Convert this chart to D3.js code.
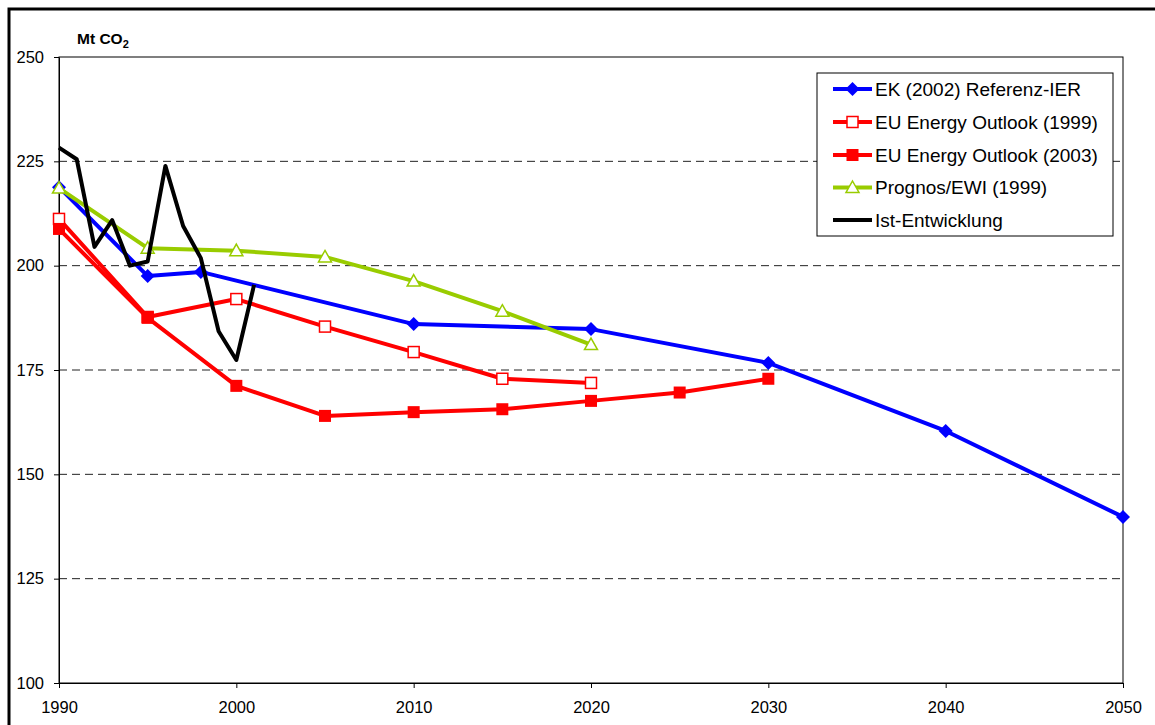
<!DOCTYPE html>
<html>
<head>
<meta charset="utf-8">
<script src="https://cdn.jsdelivr.net/npm/d3@7"></script>
<style>
  html, body { margin: 0; padding: 0; background: #fff; }
  svg { display: block; font-family: Arial, "Liberation Sans", sans-serif; }
</style>
</head>
<body>
<svg id="chart" width="1155" height="725"></svg>
<script>
// ---------- data ----------
const xTicks = [1990, 2000, 2010, 2020, 2030, 2040, 2050];
const yTicks = [100, 125, 150, 175, 200, 225, 250];
const gridValues = [125, 150, 175, 200, 225];

const ekYears = [1990, 1995, 1998, 2010, 2020, 2030, 2040, 2050];
const ekValues = [218.8, 197.5, 198.5, 186.0, 184.8, 176.7, 160.4, 139.8];

const eu1999Years = [1990, 1995, 2000, 2005, 2010, 2015, 2020];
const eu1999Values = [211.2, 187.7, 192.0, 185.4, 179.3, 172.9, 171.9];

const eu2003Years = [1990, 1995, 2000, 2005, 2010, 2015, 2020, 2025, 2030];
const eu2003Values = [208.8, 187.5, 171.2, 164.0, 164.9, 165.6, 167.6, 169.6, 172.9];

const prognosYears = [1990, 1995, 2000, 2005, 2010, 2015, 2020];
const prognosValues = [218.6, 204.2, 203.6, 202.1, 196.3, 189.1, 181.1];

const istYears = [1990, 1991, 1992, 1993, 1994, 1995, 1996, 1997, 1998, 1999, 2000, 2001];
const istValues = [228.3, 225.5, 204.5, 210.9, 200.0, 201.0, 223.9, 209.5, 201.8, 184.3, 177.4, 195.4];

const seriesNames = ["EK (2002) Referenz-IER", "EU Energy Outlook (1999)", "EU Energy Outlook (2003)", "Prognos/EWI (1999)", "Ist-Entwicklung"];

// ---------- setup ----------
const svg = d3.select("#chart");
const x = d3.scaleLinear().domain([1990, 2050]).range([59, 1123]);
const y = d3.scaleLinear().domain([100, 250]).range([683, 57]);
const FONT = "Arial, 'Liberation Sans', sans-serif";

// outer chart border
svg.append("rect").attr("x", 9).attr("y", 9).attr("width", 1160).attr("height", 730)
  .attr("fill", "none").attr("stroke", "#000").attr("stroke-width", 3);

// grid lines
svg.append("g").selectAll("line").data(gridValues).join("line")
  .attr("x1", x(1990)).attr("x2", x(2050))
  .attr("y1", d => y(d)).attr("y2", d => y(d))
  .attr("stroke", "#222").attr("stroke-width", 1).attr("stroke-dasharray", "8,5");

// plot frame
svg.append("rect").attr("x", x(1990)).attr("y", y(250))
  .attr("width", x(2050) - x(1990)).attr("height", y(100) - y(250))
  .attr("fill", "none").attr("stroke", "#000").attr("stroke-width", 1);

// axes
const yAxis = d3.axisLeft(y).tickValues(yTicks).tickSize(5).tickSizeOuter(0).tickPadding(10);
const gy = svg.append("g").attr("transform", `translate(${x(1990)},0)`).call(yAxis);
gy.select(".domain").attr("stroke", "#000");
gy.selectAll("text").attr("font-size", 16.5).attr("fill", "#000").attr("font-family", FONT);

const xAxis = d3.axisBottom(x).tickValues(xTicks).tickFormat(d3.format("d")).tickSize(5).tickSizeOuter(0).tickPadding(13);
const gx = svg.append("g").attr("transform", `translate(0,${y(100)})`).call(xAxis);
gx.select(".domain").attr("stroke", "#000");
gx.selectAll("text").attr("font-size", 16.5).attr("fill", "#000").attr("font-family", FONT);

// axis unit title
const title = svg.append("text").attr("x", 77).attr("y", 44)
  .attr("font-size", 15.5).attr("font-weight", "bold").attr("fill", "#000").attr("font-family", FONT);
title.append("tspan").text("Mt CO");
title.append("tspan").text("2").attr("font-size", 11).attr("dy", 4);

// ---------- series ----------
const line = d3.line().x(d => x(d[0])).y(d => y(d[1]));
const zip = (a, b) => a.map((v, i) => [v, b[i]]);

const diamond = (g, cx, cy, color) => g.append("path")
  .attr("d", `M${cx},${cy - 7}L${cx + 7},${cy}L${cx},${cy + 7}L${cx - 7},${cy}Z`)
  .attr("fill", color);
const openSquare = (g, cx, cy, color) => g.append("rect")
  .attr("x", cx - 5.5).attr("y", cy - 5.5).attr("width", 11).attr("height", 11)
  .attr("fill", "#fff").attr("stroke", color).attr("stroke-width", 1.5);
const filledSquare = (g, cx, cy, color) => g.append("rect")
  .attr("x", cx - 6).attr("y", cy - 6).attr("width", 12).attr("height", 12)
  .attr("fill", color);
const triangle = (g, cx, cy, color) => g.append("path")
  .attr("d", `M${cx},${cy - 6.5}L${cx + 6.5},${cy + 5}L${cx - 6.5},${cy + 5}Z`)
  .attr("fill", "#fff").attr("stroke", color).attr("stroke-width", 1.5);

const series = [
  { years: ekYears, values: ekValues, color: "#0000FF", marker: diamond },
  { years: eu1999Years, values: eu1999Values, color: "#FF0000", marker: openSquare },
  { years: eu2003Years, values: eu2003Values, color: "#FF0000", marker: filledSquare },
  { years: prognosYears, values: prognosValues, color: "#99CC00", marker: triangle },
  { years: istYears, values: istValues, color: "#000000", marker: null }
];

series.forEach(s => {
  const g = svg.append("g");
  g.append("path").datum(zip(s.years, s.values)).attr("d", line)
    .attr("fill", "none").attr("stroke", s.color).attr("stroke-width", 4)
    .attr("stroke-linejoin", "round");
  if (s.marker) {
    s.years.forEach((yr, k) => s.marker(g, x(yr), y(s.values[k]), s.color));
  }
});

// ---------- legend ----------
const lg = svg.append("g");
lg.append("rect").attr("x", 817).attr("y", 73).attr("width", 296).attr("height", 163)
  .attr("fill", "#fff").attr("stroke", "#000").attr("stroke-width", 1);
const rowY = [89, 122, 155, 187.5, 220];
series.forEach((s, i) => {
  const cy = rowY[i];
  lg.append("line").attr("x1", 833).attr("x2", 872).attr("y1", cy).attr("y2", cy)
    .attr("stroke", s.color).attr("stroke-width", 4);
  if (s.marker) s.marker(lg, 852.5, cy, s.color);
  lg.append("text").attr("x", 875).attr("y", cy).attr("dy", "0.36em")
    .attr("font-size", 19).attr("fill", "#000").attr("font-family", FONT).text(seriesNames[i]);
});
</script>
</body>
</html>
